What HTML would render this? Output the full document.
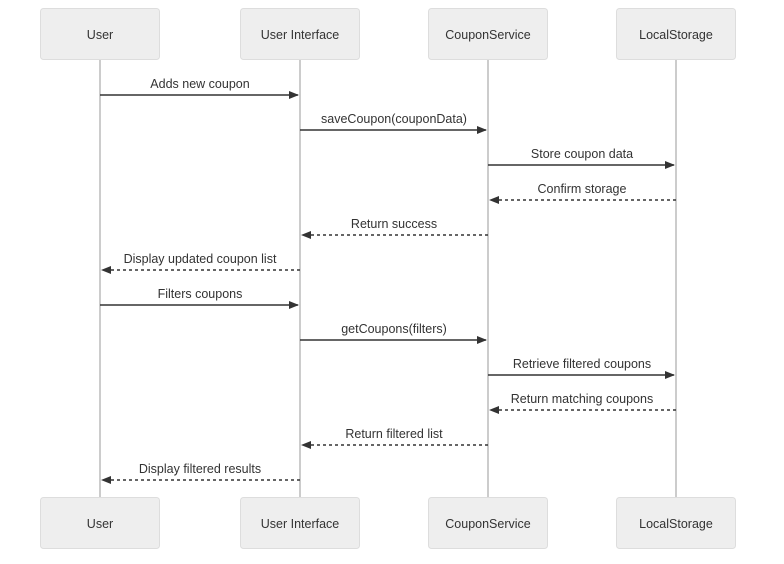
<!DOCTYPE html>
<html><head><meta charset="utf-8"><style>
html,body{margin:0;padding:0;background:#fff;width:784px;height:564px;overflow:hidden}
text{font-family:"Liberation Sans",sans-serif;font-size:12.5px;fill:#333}
</style></head><body>
<svg width="784" height="564" xmlns="http://www.w3.org/2000/svg">
<defs><marker id="a" markerWidth="10" markerHeight="8" refX="9" refY="4" orient="auto" markerUnits="userSpaceOnUse"><path d="M0,0 L10,4 L0,8 z" fill="#333"/></marker></defs>
<g stroke="#ccc" stroke-width="2">
<line x1="100" y1="60" x2="100" y2="497"/><line x1="300" y1="60" x2="300" y2="497"/>
<line x1="488" y1="60" x2="488" y2="497"/><line x1="676" y1="60" x2="676" y2="497"/>
</g>
<g fill="#eee" stroke="#ddd" stroke-width="1">
<rect x="40.5" y="8.5" width="119" height="51" rx="3"/><rect x="240.5" y="8.5" width="119" height="51" rx="3"/>
<rect x="428.5" y="8.5" width="119" height="51" rx="3"/><rect x="616.5" y="8.5" width="119" height="51" rx="3"/>
<rect x="40.5" y="497.5" width="119" height="51" rx="3"/><rect x="240.5" y="497.5" width="119" height="51" rx="3"/>
<rect x="428.5" y="497.5" width="119" height="51" rx="3"/><rect x="616.5" y="497.5" width="119" height="51" rx="3"/>
</g>
<g text-anchor="middle">
<text x="100" y="39">User</text><text x="300" y="39">User Interface</text><text x="488" y="39">CouponService</text><text x="676" y="39">LocalStorage</text>
<text x="100" y="528">User</text><text x="300" y="528">User Interface</text><text x="488" y="528">CouponService</text><text x="676" y="528">LocalStorage</text>
</g>
<g stroke="#333" stroke-width="1.5" marker-end="url(#a)">
<line x1="100" y1="95" x2="298" y2="95"/>
<line x1="300" y1="130" x2="486" y2="130"/>
<line x1="488" y1="165" x2="674" y2="165"/>
<line x1="676" y1="200" x2="490" y2="200" stroke-dasharray="3,3"/>
<line x1="488" y1="235" x2="302" y2="235" stroke-dasharray="3,3"/>
<line x1="300" y1="270" x2="102" y2="270" stroke-dasharray="3,3"/>
<line x1="100" y1="305" x2="298" y2="305"/>
<line x1="300" y1="340" x2="486" y2="340"/>
<line x1="488" y1="375" x2="674" y2="375"/>
<line x1="676" y1="410" x2="490" y2="410" stroke-dasharray="3,3"/>
<line x1="488" y1="445" x2="302" y2="445" stroke-dasharray="3,3"/>
<line x1="300" y1="480" x2="102" y2="480" stroke-dasharray="3,3"/>
</g>
<g text-anchor="middle">
<text x="200" y="88">Adds new coupon</text>
<text x="394" y="123">saveCoupon(couponData)</text>
<text x="582" y="158">Store coupon data</text>
<text x="582" y="193">Confirm storage</text>
<text x="394" y="228">Return success</text>
<text x="200" y="263">Display updated coupon list</text>
<text x="200" y="298">Filters coupons</text>
<text x="394" y="333">getCoupons(filters)</text>
<text x="582" y="368">Retrieve filtered coupons</text>
<text x="582" y="403">Return matching coupons</text>
<text x="394" y="438">Return filtered list</text>
<text x="200" y="473">Display filtered results</text>
</g>
</svg>
</body></html>
